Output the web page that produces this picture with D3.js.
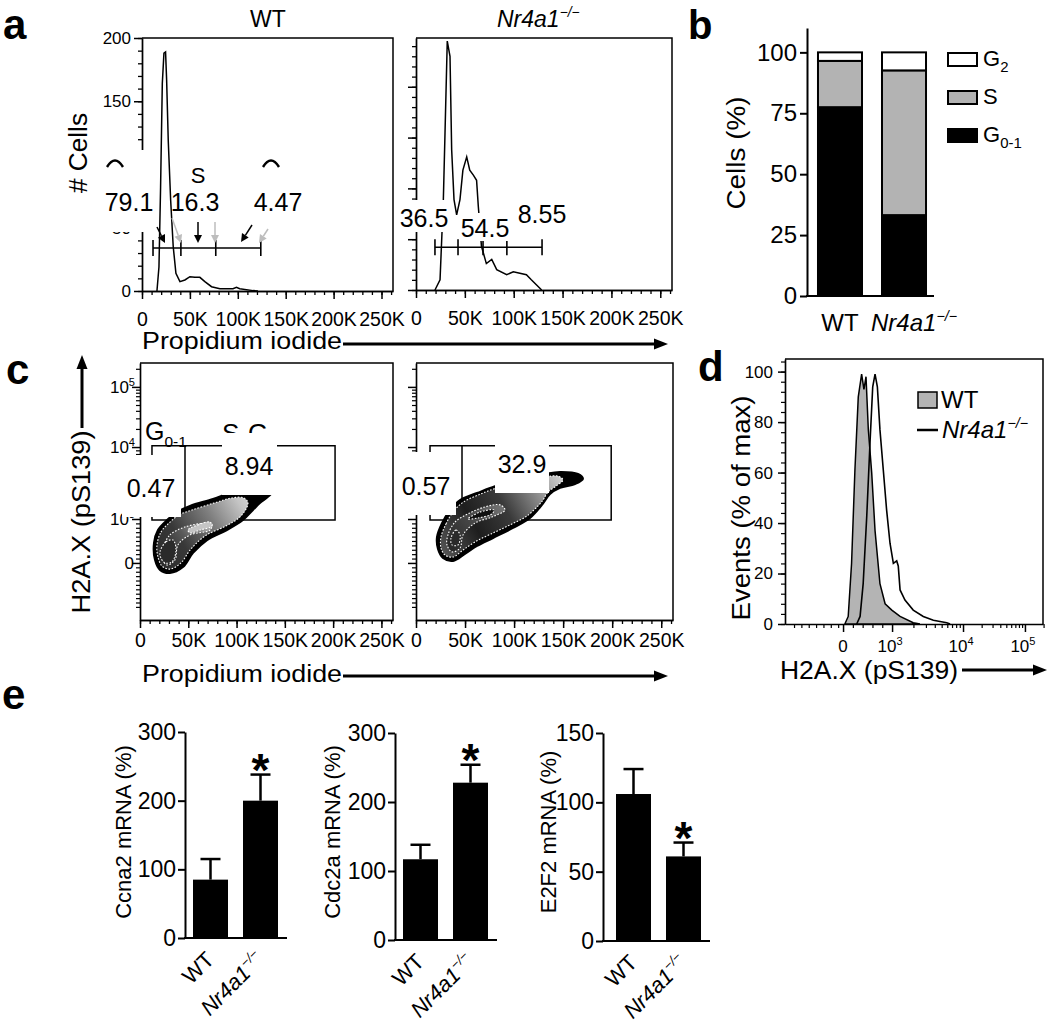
<!DOCTYPE html>
<html><head><meta charset="utf-8">
<script src="https://cdn.jsdelivr.net/npm/d3@7/dist/d3.min.js"></script>
<style>html,body{margin:0;padding:0;background:#fff}svg{display:block}</style>
</head><body>
<svg id="fig" width="1050" height="1026" xmlns="http://www.w3.org/2000/svg"></svg>
<script>
// ================= DATA =================
// shared propidium iodide axis (values in K)
const piTickValues = [0, 50, 100, 150, 200, 250];
const piTickLabels = ["0", "50K", "100K", "150K", "200K", "250K"];
const groups = ["WT", "Nr4a1"];

// panel a : PI histograms
const aCountTicks = [0, 50, 100, 150, 200];
const aWtPI    = [15.6,17.7,19.4,21.2,22.9,24.6,25.7,27.4,29.9,32.6,35.4,39.6,44.8,50,55.2,60.4,65.6,72.6,81.3,95,98.6,102,116,121];
const aWtCount = [0,19,82,164,188,189,167,119,72,35,14,7.4,8.7,11.3,10.8,10.8,7.4,3.4,1.8,1.8,2.9,1.8,0.3,0];
const aKoPI    = [19.4,24.6,28,29.7,32,34.8,36.5,38.9,41.6,45,48,51.9,55,58.7,62,63.8,67,72,77.5,82.6,92.8,99.6,113,118,128.6];
const aKoCount = [0,10,89,155,245,230,138,89,74,89,118,131,118,113,108,82,43,26,30,20,15,18,15,10,0];
const aWtGate  = [11.5, 40.6, 77, 124];
const aKoGate  = [19.4, 43, 68.6, 93, 129];
const aWtPct   = ["79.1", "16.3", "4.47"];
const aKoPct   = ["36.5", "54.5", "8.55"];

// panel b : cell-cycle phase (%)
const bTicks = [0, 25, 50, 75, 100];
const bG01 = [77.5, 33.2];
const bS   = [19.0, 59.4];
const bG2  = [3.5, 7.4];

// panel c : H2A.X vs PI (H2A.X in display channels 0-1000 of a biexponential axis)
const cYTickValues = [0, 1e3, 1e4, 1e5];
const cGateWT = [12.4, 46.6, 202];
const cGateKO = [14.3, 46.9, 199];
const cGateY  = [389, 678];
const cPctWT = ["0.47", "8.94"];
const cPctKO = ["0.57", "32.9"];
const cWtOuter = [[14.5,300],[18.6,350],[28,389],[38.3,420],[51.8,444],[75.6,471],[96.3,498],[113.9,514],[129.4,518],[138.7,506],[132.5,479],[124.2,455],[117,428],[106.6,389],[90,350],[69.4,311],[54.9,261],[44.5,206],[31,183],[20.7,195],[15.5,234]];
const cWtInner = [[17.6,292],[21.7,342],[30,377],[40.4,409],[53.8,428],[76.6,455],[95.2,475],[107.7,475],[111.8,455],[104.6,405],[89,366],[67.3,327],[51.8,272],[42.4,222],[31,198],[22.8,210],[18.6,245]];
const cWtArm   = [[23.8,280],[31,331],[46.6,362],[67.3,377],[74.5,374],[72.5,350],[51.8,331],[39.3,292],[36.2,234],[28,214],[22.8,241]];
const cWtArmLt = [[49.7,350],[60,370],[72.5,381],[74.5,366],[62,350],[51.8,339]];
const cWtCore  = [[20.7,265],[26.9,304],[34.2,311],[37.3,272],[33.1,226],[25.9,222],[21.7,241]];
const cKoOuter = [[21.4,323],[26.5,377],[34.7,428],[44.9,467],[62.2,494],[80.5,521],[106,545],[131.5,568],[146.8,576],[165.1,568],[170.2,549],[162.1,529],[146.8,514],[136.6,490],[128.4,448],[116.2,397],[98.9,358],[78.5,319],[62.2,288],[49.9,257],[37.7,230],[27.5,241],[22.4,276]];
const cKoInner = [[25.5,323],[30.6,374],[37.7,420],[47.9,458],[63.2,486],[82.6,514],[108,537],[131.5,556],[144.8,560],[149.8,545],[142.7,521],[134.6,498],[129.5,467],[124.4,444],[113.1,405],[95.8,370],[76.5,335],[60.1,304],[47.9,272],[37.7,245],[29.6,253],[25.5,280]];
const cKoArm   = [[32.6,331],[39.8,381],[53,413],[70.3,440],[85.6,448],[90.7,428],[77.5,401],[60.1,377],[47.9,331],[44.9,280],[36.7,265],[31.6,292]];
const cKoArmCore = [[53,393],[65.2,420],[79.5,428],[77.5,413],[63.2,397]];
const cKoCore  = [[35.7,319],[40.8,350],[44.9,331],[42.8,292],[36.7,292]];

// panel d : H2A.X histograms (display channel, % of max)
const dYTicks = [0, 20, 40, 60, 80, 100];
const dXTickValues = [0, 1e3, 1e4, 1e5];
const dWtCh = [232,245,258,271,284,297,306,314,323,336,349,368,388,414,446,497,523];
const dWtEv = [0,3,24,61,90,99,93,98,77,60,37,16,8,5.5,3,0.5,0];
const dKoCh = [278,291,303,317,330,340,349,358,368,381,394,407,420,433,439,446,465,497,536,575,627,640];
const dKoEv = [0,3,16,43,73,94,99,94,77,61,45,32,24,25,23,13.5,9.5,5.5,3,1.5,0.5,0];

// panel e : mRNA (%)
const eGenes   = ["Ccna2", "Cdc2a", "E2F2"];
const eWT      = [85, 117, 106];
const eWTerr   = [30, 21, 18];
const eKO      = [200, 228, 61];
const eKOerr   = [38, 26, 10];
const eMax     = [300, 300, 150];
const eTicks   = [[0,100,200,300],[0,100,200,300],[0,50,100,150]];

// ================= HELPERS =================
const svg = d3.select("#fig");
const SANS = '"Liberation Sans", Arial, Helvetica, sans-serif';
const BOLD = '"Liberation Sans", Arial, Helvetica, sans-serif';

function label(g, x, y, str, size, o = {}) {
  const t = g.append("text").attr("x", x).attr("y", y)
    .attr("font-family", o.family || SANS).attr("font-size", size)
    .attr("text-anchor", o.anchor || "start").attr("fill", o.fill || "#000");
  if (o.weight) t.attr("font-weight", o.weight);
  if (o.italic) t.attr("font-style", "italic");
  if (o.rotate != null) t.attr("transform", `rotate(${o.rotate},${x},${y})`);
  if (o.len) t.attr("textLength", o.len).attr("lengthAdjust", "spacingAndGlyphs");
  if (Array.isArray(str)) {
    str.forEach(p => {
      const s = t.append("tspan").text(p.t);
      if (p.sub) s.attr("font-size", size * (p.scale || 0.62)).attr("dy", size * 0.28);
      if (p.sup) s.attr("font-size", size * (p.scale || 0.62)).attr("dy", -size * 0.42);
    });
  } else t.text(str);
  return t;
}
function styleAxis(g, sw, fs) {
  g.attr("font-family", SANS).attr("font-size", fs || 16);
  g.selectAll(".domain").attr("stroke", "#000").attr("stroke-width", sw);
  g.selectAll(".tick line").attr("stroke", "#000").attr("stroke-width", sw);
  g.selectAll(".tick text").attr("fill", "#000");
}
function whiteBox(g, x, y, w, h) {
  g.append("rect").attr("x", x).attr("y", y).attr("width", w).attr("height", h).attr("fill", "#fff");
}
function arrow(g, x1, y1, x2, y2, col, sw, hl, hw) {
  const a = Math.atan2(y2 - y1, x2 - x1);
  const bx = x2 - hl * Math.cos(a), by = y2 - hl * Math.sin(a);
  g.append("line").attr("x1", x1).attr("y1", y1).attr("x2", bx).attr("y2", by)
    .attr("stroke", col).attr("stroke-width", sw);
  const px = -Math.sin(a) * hw, py = Math.cos(a) * hw;
  g.append("path").attr("d", `M${x2},${y2}L${bx + px},${by + py}L${bx - px},${by - py}Z`).attr("fill", col);
}
const koName = () => [{t: "Nr4a1"}, {t: "\u2212/\u2212", sup: true, scale: 0.6}];

// ================= PANEL LETTERS =================
label(svg, 3, 39, "a", 42, {family: BOLD, weight: 700});
label(svg, 688, 39, "b", 40, {family: BOLD, weight: 700});
label(svg, 6, 384, "c", 42, {family: BOLD, weight: 700});
label(svg, 698, 381, "d", 42, {family: BOLD, weight: 700});
label(svg, 2, 709, "e", 42, {family: BOLD, weight: 700});

// ================= PANEL A =================
function histPanel(cfg) {
  const g = svg.append("g");
  const x = d3.scaleLinear().domain([0, 262]).range([cfg.x0, cfg.x1]);
  const y = d3.scaleLinear().domain([0, cfg.ymax]).range([cfg.yb, cfg.yt]);
  g.append("path").attr("d", `M${cfg.x0},${cfg.yt}H${cfg.x1}V${cfg.yb}`)
    .attr("fill", "none").attr("stroke", "#000").attr("stroke-width", 1.5);
  g.append("g").attr("transform", `translate(0,${cfg.yb})`)
    .call(d3.axisBottom(x).tickValues(d3.range(0, 261, 10)).tickSize(4).tickSizeOuter(0).tickFormat(""))
    .call(a => styleAxis(a, 1.3));
  g.append("g").attr("transform", `translate(0,${cfg.yb})`)
    .call(d3.axisBottom(x).tickValues(piTickValues).tickSize(8).tickSizeOuter(0).tickPadding(cfg.xpad)
      .tickFormat((d, i) => piTickLabels[i]))
    .call(a => styleAxis(a, 1.5, 19.5));
  g.append("g").attr("transform", `translate(${cfg.x0},0)`)
    .call(d3.axisLeft(y).tickValues(cfg.minorY).tickSize(4).tickSizeOuter(0).tickFormat(""))
    .call(a => styleAxis(a, 1.3));
  g.append("g").attr("transform", `translate(${cfg.x0},0)`)
    .call(d3.axisLeft(y).tickValues(aCountTicks).tickSize(8).tickSizeOuter(0).tickPadding(3)
      .tickFormat(cfg.ylab ? d3.format("d") : ""))
    .call(a => styleAxis(a, 1.5, 17));
  return {g, x, y};
}
function gateBar(g, x, yv, ticks) {
  g.append("line").attr("x1", x(ticks[0])).attr("x2", x(ticks[ticks.length - 1]))
    .attr("y1", yv).attr("y2", yv).attr("stroke", "#000").attr("stroke-width", 1.6);
  ticks.forEach(t => g.append("line").attr("x1", x(t)).attr("x2", x(t))
    .attr("y1", yv - 8).attr("y2", yv + 8).attr("stroke", "#000").attr("stroke-width", 1.6));
}
const histLine = (x, y) => d3.line().x(d => x(d[0])).y(d => y(d[1]));

// WT
{
  const {g, x, y} = histPanel({x0: 142, x1: 393, yt: 38, yb: 291, ymax: 200, xpad: 13,
    minorY: d3.range(0, 201, 10), ylab: true});
  gateBar(g, x, y(34), aWtGate);
  g.append("path").datum(d3.zip(aWtPI, aWtCount)).attr("d", histLine(x, y))
    .attr("fill", "none").attr("stroke", "#000").attr("stroke-width", 1.5);
  whiteBox(g, 95, 150, 62, 82);
  // tops of hidden G labels
  [115, 271].forEach(cx => g.append("path").attr("d", `M${cx - 8},167Q${cx},154 ${cx + 8},167`)
    .attr("fill", "none").attr("stroke", "#000").attr("stroke-width", 2.4));
  label(g, 198, 183, "S", 22, {anchor: "middle"});
  label(g, 129, 211, aWtPct[0], 25, {anchor: "middle"});
  label(g, 195, 211, aWtPct[1], 25, {anchor: "middle"});
  label(g, 278, 211, aWtPct[2], 25, {anchor: "middle"});
  arrow(g, 157, 227, 165, 243, "#000", 1.5, 8, 4);
  arrow(g, 198, 222, 198, 243, "#000", 1.5, 8, 4);
  arrow(g, 252, 225, 241, 242, "#000", 1.5, 8, 4);
  arrow(g, 172, 218, 181, 243, "#bdbdbd", 1.5, 8, 4);
  arrow(g, 215, 222, 215, 243, "#bdbdbd", 1.5, 8, 4);
  arrow(g, 268, 229, 259, 243, "#bdbdbd", 1.5, 8, 4);
  label(svg, 268, 27, "WT", 23, {anchor: "middle"});
}
// Nr4a1-/-
{
  const {g, x, y} = histPanel({x0: 416, x1: 672, yt: 38, yb: 290, ymax: 248, xpad: 13,
    minorY: d3.range(0, 241, 10), ylab: false});
  gateBar(g, x, y(42), aKoGate);
  g.append("path").datum(d3.zip(aKoPI, aKoCount)).attr("d", histLine(x, y))
    .attr("fill", "none").attr("stroke", "#000").attr("stroke-width", 1.5);
  whiteBox(g, 398, 200, 53, 32);
  whiteBox(g, 459, 213, 52, 28);
  label(g, 424, 227, aKoPct[0], 25, {anchor: "middle"});
  label(g, 485, 237, aKoPct[1], 25, {anchor: "middle"});
  label(g, 542, 223, aKoPct[2], 25, {anchor: "middle"});
  label(svg, 497, 27, koName(), 23, {italic: true});
}
label(svg, 87, 153, "# Cells", 25, {anchor: "middle", rotate: -90, len: 80});
label(svg, 142, 349, "Propidium iodide", 23, {len: 200});
arrow(svg, 343, 344, 668, 344, "#000", 3, 14, 5.5);

// ================= PANEL B =================
{
  const g = svg.append("g");
  const y = d3.scaleLinear().domain([0, 110]).range([296, 28]);
  const x = d3.scaleBand().domain(groups).range([808, 936]).paddingInner(0.3125).paddingOuter(0.156);
  g.append("g").attr("transform", "translate(807,0)")
    .call(d3.axisLeft(y).tickValues(bTicks).tickSize(7).tickSizeOuter(0).tickPadding(3))
    .call(a => styleAxis(a, 2, 24));
  g.append("line").attr("x1", 806).attr("x2", 934).attr("y1", 296).attr("y2", 296)
    .attr("stroke", "#000").attr("stroke-width", 2);
  const stack = d3.stack().keys(["G01", "S", "G2"])(groups.map((k, i) => ({g: k, G01: bG01[i], S: bS[i], G2: bG2[i]})));
  const fills = {G01: "#000", S: "#b3b3b3", G2: "#fff"};
  stack.forEach(layer => {
    g.selectAll(null).data(layer).enter().append("rect")
      .attr("x", d => x(d.data.g)).attr("width", x.bandwidth())
      .attr("y", d => y(d[1])).attr("height", d => y(d[0]) - y(d[1]))
      .attr("fill", fills[layer.key]).attr("stroke", "#000").attr("stroke-width", 2);
  });
  const leg = [["#fff", 53, [{t: "G"}, {t: "2", sub: true, scale: 0.68}], 66],
               ["#b3b3b3", 91, "S", 104],
               ["#000", 129, [{t: "G"}, {t: "0-1", sub: true, scale: 0.68}], 142]];
  leg.forEach(l => {
    g.append("rect").attr("x", 948).attr("y", l[1]).attr("width", 29).attr("height", 13)
      .attr("fill", l[0]).attr("stroke", "#000").attr("stroke-width", 2);
    label(g, 983, l[3], l[2], 22);
  });
  label(g, 745, 153, "Cells (%)", 25, {anchor: "middle", rotate: -90, len: 113});
  label(g, 840, 331, "WT", 24, {anchor: "middle"});
  label(g, 871, 331, koName(), 24, {italic: true});
}

// ================= PANEL C =================
function biexCh(v) { // FlowJo-like biexponential display channel (approx.)
  if (v >= 1e4) return 673 + 234 * Math.log10(v / 1e4);
  if (v >= 1e3) return 393 + 280 * Math.log10(v / 1e3);
  return 222 + 171 * v / 1e3;
}
const cMinorY = [].concat(d3.range(-1000, 0, 100), d3.range(100, 1000, 100),
  d3.range(2e3, 1e4, 1e3), d3.range(2e4, 1e5, 1e4), [2e5]);
const defs = svg.append("defs");
function grad(id, x1, y1, x2, y2, stops) {
  const lg = defs.append("linearGradient").attr("id", id).attr("gradientUnits", "userSpaceOnUse")
    .attr("x1", x1).attr("y1", y1).attr("x2", x2).attr("y2", y2);
  stops.forEach(s => lg.append("stop").attr("offset", s[0]).attr("stop-color", s[1]));
}
grad("gWT", 152, 565, 258, 498, [[0, "#2a2a2a"], [0.3, "#383838"], [0.6, "#7e7e7e"], [0.85, "#c4c4c4"], [1, "#dcdcdc"]]);
grad("gWTarm", 160, 560, 215, 520, [[0, "#1a1a1a"], [0.5, "#5a5a5a"], [1, "#c8c8c8"]]);
grad("gKO", 440, 550, 562, 480, [[0, "#555"], [0.3, "#1e1e1e"], [0.55, "#3a3a3a"], [0.8, "#8e8e8e"], [1, "#cfcfcf"]]);
grad("gKOarm", 450, 545, 505, 505, [[0, "#2a2a2a"], [0.5, "#4a4a4a"], [1, "#777"]]);

function dotPanel(cfg) {
  const g = svg.append("g");
  const x = d3.scaleLinear().domain([0, 262]).range([cfg.x0, cfg.x1]);
  const y = d3.scaleLinear().domain([0, 1000]).range([620, 363]);
  g.append("path").attr("d", `M${cfg.x0},363H${cfg.x1}V620`)
    .attr("fill", "none").attr("stroke", "#000").attr("stroke-width", 1.5);
  g.append("g").attr("transform", "translate(0,620)")
    .call(d3.axisBottom(x).tickValues(d3.range(0, 261, 10)).tickSize(4).tickSizeOuter(0).tickFormat(""))
    .call(a => styleAxis(a, 1.3));
  g.append("g").attr("transform", "translate(0,620)")
    .call(d3.axisBottom(x).tickValues(piTickValues).tickSize(8).tickSizeOuter(0).tickPadding(5)
      .tickFormat((d, i) => piTickLabels[i]))
    .call(a => styleAxis(a, 1.5, 19.5));
  g.append("g").attr("transform", `translate(${cfg.x0},0)`)
    .call(d3.axisLeft(y).tickValues(cMinorY.map(biexCh)).tickSize(4).tickSizeOuter(0).tickFormat(""))
    .call(a => styleAxis(a, 1.2));
  g.append("g").attr("transform", `translate(${cfg.x0},0)`)
    .call(d3.axisLeft(y).tickValues(cYTickValues.map(biexCh)).tickSize(8).tickSizeOuter(0).tickFormat(""))
    .call(a => styleAxis(a, 1.5));
  if (cfg.ylab) {
    cYTickValues.forEach(v => {
      const yy = y(biexCh(v)) + 6;
      if (v === 0) label(g, 134, yy, "0", 17, {anchor: "end"});
      else label(g, 135, yy, [{t: "10"}, {t: String(Math.round(Math.log10(v))), sup: true, scale: 0.65}], 17, {anchor: "end"});
    });
  }
  const gx = cfg.gate.map(x), gy = cGateY.map(y);
  g.append("path").attr("d", `M${gx[1]},${gy[0]}H${gx[0]}V${gy[1]}H${gx[2]}V${gy[0]}H${gx[1]}V${gy[1]}`)
    .attr("fill", "none").attr("stroke", "#000").attr("stroke-width", 1.5);
  const line = d3.line().x(d => x(d[0])).y(d => y(d[1])).curve(d3.curveCatmullRomClosed.alpha(0.5));
  const dotted = (sel) => sel.attr("stroke", "#fff").attr("stroke-width", 1.1).attr("stroke-dasharray", "1.6 1.6");
  g.append("path").attr("d", line(cfg.outer)).attr("fill", "#000").attr("stroke", "#000").attr("stroke-width", 2);
  g.append("path").attr("d", line(cfg.inner)).attr("fill", `url(#${cfg.grad})`).call(dotted);
  g.append("path").attr("d", line(cfg.arm)).attr("fill", `url(#${cfg.gradArm})`).call(dotted);
  g.append("path").attr("d", line(cfg.arm2)).attr("fill", cfg.arm2Fill).call(dotted);
  g.append("path").attr("d", line(cfg.core)).attr("fill", "#2a2a2a").call(dotted);
  return {g, x, y};
}
{
  const {g} = dotPanel({x0: 140, x1: 393, ylab: true, gate: cGateWT, outer: cWtOuter, inner: cWtInner,
    arm: cWtArm, arm2: cWtArmLt, arm2Fill: "#c4c4c4", core: cWtCore, grad: "gWT", gradArm: "gWTarm"});
  label(g, 145, 440, [{t: "G"}, {t: "0-1", sub: true, scale: 0.62}], 25);
  label(g, 222, 442, [{t: "S-G"}, {t: "2", sub: true, scale: 0.62}], 26);
  whiteBox(g, 122, 455, 59, 62);
  whiteBox(g, 222, 433, 55, 62);
  label(g, 151, 497, cPctWT[0], 25, {anchor: "middle"});
  label(g, 249, 475, cPctWT[1], 25, {anchor: "middle"});
}
{
  const {g} = dotPanel({x0: 416, x1: 673, ylab: false, gate: cGateKO, outer: cKoOuter, inner: cKoInner,
    arm: cKoArm, arm2: cKoArmCore, arm2Fill: "#111", core: cKoCore, grad: "gKO", gradArm: "gKOarm"});
  whiteBox(g, 399, 452, 57, 63);
  whiteBox(g, 495, 444, 54, 49);
  label(g, 426, 495, cPctKO[0], 25, {anchor: "middle"});
  label(g, 522, 473, cPctKO[1], 25, {anchor: "middle"});
}
label(svg, 90, 522, "H2A.X (pS139)", 26, {anchor: "middle", rotate: -90, len: 183});
arrow(svg, 82, 428, 82, 355, "#000", 3, 14, 5.5);
label(svg, 142, 682, "Propidium iodide", 23, {len: 200});
arrow(svg, 343, 676, 668, 676, "#000", 3, 14, 5.5);

// ================= PANEL D =================
function biexChD(v) {
  if (v >= 1e4) return 690 + 240 * Math.log10(v / 1e4);
  if (v >= 1e3) return 415 + 275 * Math.log10(v / 1e3);
  return 225 + 190 * v / 1e3;
}
{
  const g = svg.append("g");
  const x = d3.scaleLinear().domain([0, 1000]).range([785, 1043]);
  const y = d3.scaleLinear().domain([0, 105]).range([624, 359]);
  g.append("path").attr("d", "M785,359H1043V624").attr("fill", "none").attr("stroke", "#000").attr("stroke-width", 1.5);
  const minorX = [].concat(d3.range(-1000, 0, 150), d3.range(200, 1000, 200),
    d3.range(2e3, 1e4, 1e3), d3.range(2e4, 1e5, 1e4), [2e5]);
  g.append("g").attr("transform", "translate(0,624)")
    .call(d3.axisBottom(x).tickValues(minorX.map(biexChD)).tickSize(4).tickSizeOuter(0).tickFormat(""))
    .call(a => styleAxis(a, 1.2));
  g.append("g").attr("transform", "translate(0,624)")
    .call(d3.axisBottom(x).tickValues(dXTickValues.map(biexChD)).tickSize(8).tickSizeOuter(0).tickFormat(""))
    .call(a => styleAxis(a, 1.5));
  dXTickValues.forEach(v => {
    const xx = x(biexChD(v));
    if (v === 0) label(g, xx, 652, "0", 17, {anchor: "middle"});
    else label(g, xx - 2, 652, [{t: "10"}, {t: String(Math.round(Math.log10(v))), sup: true, scale: 0.65}], 17, {anchor: "middle"});
  });
  g.append("g").attr("transform", "translate(785,0)")
    .call(d3.axisLeft(y).tickValues(d3.range(0, 105, 4)).tickSize(4).tickSizeOuter(0).tickFormat(""))
    .call(a => styleAxis(a, 1.2));
  g.append("g").attr("transform", "translate(785,0)")
    .call(d3.axisLeft(y).tickValues(dYTicks).tickSize(7).tickSizeOuter(0).tickPadding(5))
    .call(a => styleAxis(a, 1.5, 17));
  const area = d3.area().x(d => x(d[0])).y0(y(0)).y1(d => y(d[1]));
  const ln = d3.line().x(d => x(d[0])).y(d => y(d[1]));
  g.append("path").datum(d3.zip(dWtCh, dWtEv)).attr("d", area).attr("fill", "#b4b4b4")
    .attr("stroke", "#000").attr("stroke-width", 1.5);
  g.append("path").datum(d3.zip(dKoCh, dKoEv)).attr("d", ln).attr("fill", "none")
    .attr("stroke", "#000").attr("stroke-width", 1.6);
  g.append("rect").attr("x", 918).attr("y", 392).attr("width", 19).attr("height", 16)
    .attr("fill", "#b4b4b4").attr("stroke", "#000").attr("stroke-width", 1.5);
  label(g, 941, 408, "WT", 24);
  g.append("line").attr("x1", 917).attr("x2", 938).attr("y1", 430).attr("y2", 430)
    .attr("stroke", "#000").attr("stroke-width", 2.5);
  label(g, 942, 438, koName(), 24, {italic: true});
  label(g, 750, 508, "Events (% of max)", 26, {anchor: "middle", rotate: -90, len: 225});
  label(g, 780, 679, "H2A.X (pS139)", 26, {len: 178});
  arrow(g, 962, 670, 1047, 670, "#000", 3, 14, 5.5);
}

// ================= PANEL E =================
const eLayout = [
  {ax: 185, r0: 186, r1: 285, y0: 938, yTop: 732, lx: 131},
  {ax: 395, r0: 396, r1: 495, y0: 940, yTop: 733, lx: 340},
  {ax: 603, r0: 609, r1: 708, y0: 941, yTop: 733, lx: 556}
];
eGenes.forEach((gene, i) => {
  const L = eLayout[i];
  const g = svg.append("g");
  const y = d3.scaleLinear().domain([0, eMax[i]]).range([L.y0, L.yTop]);
  const x = d3.scaleBand().domain(groups).range([L.r0, L.r1]).paddingInner(0.3).paddingOuter(0.14);
  g.append("g").attr("transform", `translate(${L.ax},0)`)
    .call(d3.axisLeft(y).tickValues(eTicks[i]).tickSize(7).tickSizeOuter(0).tickPadding(2))
    .call(a => styleAxis(a, 2, 23));
  g.append("line").attr("x1", L.ax - 1).attr("x2", L.r1 + 2).attr("y1", L.y0).attr("y2", L.y0)
    .attr("stroke", "#000").attr("stroke-width", 2);
  const vals = [eWT[i], eKO[i]], errs = [eWTerr[i], eKOerr[i]];
  groups.forEach((k, j) => {
    const cx = x(k) + x.bandwidth() / 2;
    const top = y(vals[j] + errs[j]);
    g.append("line").attr("x1", cx).attr("x2", cx).attr("y1", y(vals[j])).attr("y2", top)
      .attr("stroke", "#000").attr("stroke-width", 2.5);
    g.append("line").attr("x1", cx - 10).attr("x2", cx + 10).attr("y1", top).attr("y2", top)
      .attr("stroke", "#000").attr("stroke-width", 2.5);
    g.append("rect").attr("x", x(k)).attr("width", x.bandwidth())
      .attr("y", y(vals[j])).attr("height", L.y0 - y(vals[j])).attr("fill", "#000");
    if (j === 1) label(g, cx, top + 11, "*", 46, {anchor: "middle", weight: 700});
    const lx = cx + 5, ly = L.y0 + 23;
    if (j === 0) label(g, lx, ly, "WT", 22, {anchor: "end", rotate: -45});
    else label(g, lx, ly, koName(), 22, {anchor: "end", rotate: -45, italic: true});
  });
  label(g, L.lx, 832, `${gene} mRNA (%)`, 22, {anchor: "middle", rotate: -90});
});
</script>
</body></html>
